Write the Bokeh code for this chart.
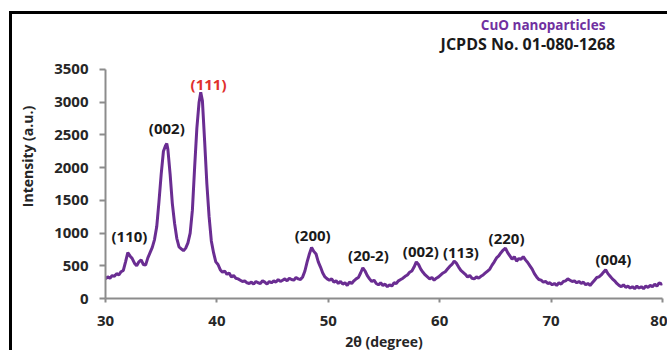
from bokeh.plotting import figure
from bokeh.models import ColumnDataSource, Range1d, FixedTicker
from bokeh.core.properties import value
from bokeh.embed import file_html
from bokeh.resources import INLINE

# ---- data ----
two_theta = [
    30.0, 30.2, 30.4, 30.6, 30.8, 31.0, 31.2, 31.4, 31.6, 31.8, 32.0, 32.2, 32.4, 32.6, 32.8,
    33.0, 33.2, 33.4, 33.6, 33.8, 34.0, 34.2, 34.4, 34.6, 34.8, 35.0, 35.2, 35.4, 35.5, 35.6,
    35.8, 36.0, 36.2, 36.4, 36.6, 36.8, 37.0, 37.2, 37.4, 37.6, 37.8, 38.0, 38.2, 38.4, 38.55,
    38.7, 38.9, 39.1, 39.3, 39.5, 39.7, 39.9, 40.1, 40.3, 40.5, 40.7, 40.9, 41.1, 41.3, 41.5,
    41.7, 41.9, 42.1, 42.3, 42.5, 42.7, 42.9, 43.1, 43.3, 43.5, 43.7, 43.9, 44.1, 44.3, 44.5,
    44.7, 44.9, 45.1, 45.3, 45.5, 45.7, 45.9, 46.1, 46.3, 46.5, 46.7, 46.9, 47.1, 47.3, 47.5,
    47.7, 47.9, 48.1, 48.3, 48.5, 48.7, 48.9, 49.1, 49.3, 49.5, 49.7, 49.9, 50.1, 50.3, 50.5,
    50.7, 50.9, 51.1, 51.3, 51.5, 51.7, 51.9, 52.1, 52.3, 52.5, 52.7, 52.9, 53.1, 53.3, 53.5,
    53.7, 53.9, 54.1, 54.3, 54.5, 54.7, 54.9, 55.1, 55.3, 55.5, 55.7, 55.9, 56.1, 56.3, 56.5,
    56.7, 56.9, 57.1, 57.3, 57.5, 57.7, 57.9, 58.1, 58.3, 58.5, 58.7, 58.9, 59.1, 59.3, 59.5,
    59.7, 59.9, 60.1, 60.3, 60.5, 60.7, 60.9, 61.1, 61.3, 61.5, 61.7, 61.9, 62.1, 62.3, 62.5,
    62.7, 62.9, 63.1, 63.3, 63.5, 63.7, 63.9, 64.1, 64.3, 64.5, 64.7, 64.9, 65.1, 65.3, 65.5,
    65.7, 65.9, 66.1, 66.3, 66.5, 66.7, 66.9, 67.1, 67.3, 67.5, 67.7, 67.9, 68.1, 68.3, 68.5,
    68.7, 68.9, 69.1, 69.3, 69.5, 69.7, 69.9, 70.1, 70.3, 70.5, 70.7, 70.9, 71.1, 71.3, 71.5,
    71.7, 71.9, 72.1, 72.3, 72.5, 72.7, 72.9, 73.1, 73.3, 73.5, 73.7, 73.9, 74.1, 74.3, 74.5,
    74.7, 74.9, 75.1, 75.3, 75.5, 75.7, 75.9, 76.1, 76.3, 76.5, 76.7, 76.9, 77.1, 77.3, 77.5,
    77.7, 77.9, 78.1, 78.3, 78.5, 78.7, 78.9, 79.1, 79.3, 79.5, 79.7, 79.9, 80.0,
]
intensity = [
    300, 330, 310, 350, 340, 380, 360, 410, 430, 560, 700, 650, 610, 540, 500,
    560, 590, 520, 510, 620, 700, 780, 900, 1100, 1480, 1900, 2250, 2340, 2370, 2280,
    1900, 1450, 1150, 920, 790, 760, 730, 770, 850, 1000, 1350, 2000, 2600, 3000, 3150,
    3020, 2400, 1750, 1250, 880, 700, 560, 520, 440, 400, 420, 370, 390, 330, 350,
    310, 300, 280, 260, 270, 240, 230, 250, 220, 260, 240, 230, 270, 250, 220,
    260, 240, 270, 250, 290, 260, 280, 300, 270, 310, 290, 280, 320, 300, 290,
    330, 420, 560, 680, 780, 720, 680, 560, 480, 390, 330, 300, 280, 300, 250,
    270, 230, 260, 220, 240, 200, 250, 230, 270, 300, 320, 390, 470, 420, 350,
    300, 260, 280, 230, 210, 240, 200, 220, 180, 210, 190, 240, 230, 270, 290,
    310, 340, 360, 400, 420, 480, 560, 520, 450, 400, 360, 330, 300, 320, 280,
    310, 330, 360, 390, 410, 450, 490, 520, 570, 540, 480, 430, 400, 370, 330,
    350, 310, 300, 330, 310, 340, 360, 390, 420, 450, 510, 560, 620, 650, 700,
    740, 770, 700, 650, 600, 640, 570, 610, 600, 640, 590, 550, 500, 450, 380,
    330, 290, 280, 250, 260, 230, 240, 210, 230, 200, 240, 220, 260, 270, 300,
    280, 260, 270, 240, 260, 230, 250, 210, 230, 200, 240, 280, 320, 330, 360,
    400, 440, 380, 340, 300, 270, 230, 200, 180, 210, 170, 190, 160, 180, 150,
    190, 160, 180, 150, 190, 170, 200, 180, 220, 190, 240, 220, 230,
]

peak_labels = ["(110)", "(002)", "(111)", "(200)", "(20-2)", "(002)", "(113)", "(220)", "(004)"]
peak_label_x = [32.15, 35.5, 39.25, 48.6, 53.6, 58.3, 61.9, 66.0, 75.6]
peak_label_y = [955, 2600, 3280, 970, 672, 733, 710, 924, 596]
peak_label_color = ["#1a1a1a", "#1a1a1a", "#e0302c", "#1a1a1a", "#1a1a1a",
                    "#1a1a1a", "#1a1a1a", "#1a1a1a", "#1a1a1a"]

x_ticks = [30, 40, 50, 60, 70, 80]
y_ticks = [0, 500, 1000, 1500, 2000, 2500, 3000, 3500]

title_main = "CuO nanoparticles"
title_ref = "JCPDS No. 01-080-1268"
title_x = [69.28, 67.92]
title_y = [4180, 3896]

# ---- figure ----
# The chart area reaches up to the picture's frame; the y axis itself stops at 3500.
p = figure(width=658, height=339, output_backend="svg", toolbar_location=None,
           x_range=Range1d(30, 80), y_range=Range1d(0, 4340),
           min_border_left=93, min_border_right=8, min_border_top=0, min_border_bottom=55)
# outer frame of the picture: only its left and top edges are inside the window
p.styles = {"margin-left": "9px", "margin-top": "11px",
            "border-left": "3px solid black", "border-top": "3px solid black"}
p.outline_line_color = None
p.grid.visible = False
p.background_fill_color = "white"
p.border_fill_color = "white"

src = ColumnDataSource(dict(x=two_theta, y=intensity))
p.line("x", "y", source=src, line_color="#6a2d92", line_width=3)

lab_src = ColumnDataSource(dict(x=peak_label_x, y=peak_label_y, t=peak_labels, c=peak_label_color))
p.text("x", "y", text="t", source=lab_src, text_color="c",
       text_font=value("Open Sans"), text_font_style="bold", text_font_size="15px",
       text_align="center", text_baseline="middle")

# titles (top right)
p.text(x=[title_x[0]], y=[title_y[0]], text=[title_main], text_color="#7030a0",
       text_font=value("Open Sans"), text_font_style="bold", text_font_size="13.5px",
       text_align="center", text_baseline="middle")
p.text(x=[title_x[1]], y=[title_y[1]], text=[title_ref], text_color="#1a1a1a",
       text_font=value("Open Sans"), text_font_style="bold", text_font_size="16px",
       text_align="center", text_baseline="middle")

# axes
for ax in (p.xaxis[0], p.yaxis[0]):
    ax.axis_line_color = "#8c8c8c"
    ax.axis_line_width = 2
    ax.major_tick_line_color = "#8c8c8c"
    ax.major_tick_line_width = 2
    ax.major_tick_in = 0
    ax.minor_tick_line_color = None
    ax.major_label_text_font = "Open Sans"
    ax.major_label_text_font_style = "bold"
    ax.major_label_text_font_size = "15px"
    ax.major_label_text_color = "#262626"
    ax.axis_label_text_font = "Open Sans"
    ax.axis_label_text_font_style = "bold"
    ax.axis_label_text_color = "#262626"
    ax.axis_label_text_font_size = "14px"

p.xaxis.ticker = FixedTicker(ticks=x_ticks)
p.yaxis.ticker = FixedTicker(ticks=y_ticks)
p.yaxis.bounds = (0, 3500)
p.xaxis.major_tick_out = 4
p.yaxis.major_tick_out = 6
p.xaxis.major_label_standoff = 13
p.yaxis.major_label_standoff = 11
p.xaxis.axis_label = "2θ (degree)"
p.yaxis.axis_label = "Intensity (a.u.)"
p.xaxis.axis_label_standoff = 3
p.yaxis.axis_label_standoff = 14

open("out.html", "w").write(file_html(p, INLINE))
